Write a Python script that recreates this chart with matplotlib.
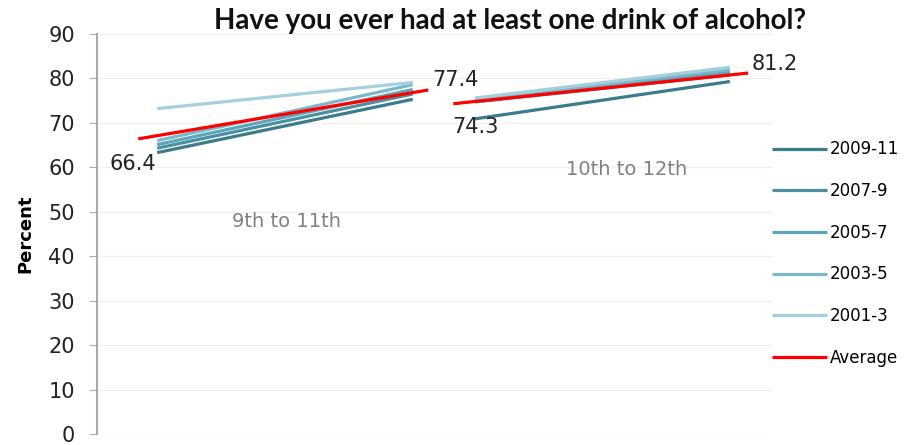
import matplotlib
matplotlib.use('Agg')
import matplotlib.pyplot as plt

periods = ['2009-11', '2007-9', '2005-7', '2003-5', '2001-3']
colors = ['#3b7c8c', '#4a8fa2', '#5ba6bd', '#7ab8cb', '#a6cfdc']

# 9th grade -> 11th grade
first_start = [63.3, 64.3, 65.1, 66.0, 73.2]
first_end = [75.3, 76.5, 77.5, 78.6, 79.1]
# 10th grade -> 12th grade
second_start = [70.9, 74.7, 75.0, 75.3, 75.6]
second_end = [79.3, 80.8, 81.4, 82.0, 82.5]

avg_first = [66.4, 77.4]
avg_second = [74.3, 81.2]

# x positions of the segments
x_first = [0.89, 4.67]
x_second = [5.59, 9.36]
x_avg_first = [0.61, 4.90]
x_avg_second = [5.27, 9.63]

fig = plt.figure(figsize=(9.15, 4.45), dpi=100)
ax = fig.add_axes([0.106, 0.0247, 0.739, 0.899])

for i in range(len(periods)):
    ax.plot(x_first, [first_start[i], first_end[i]], color=colors[i], lw=2.3,
            label=periods[i], solid_capstyle='butt')
    ax.plot(x_second, [second_start[i], second_end[i]], color=colors[i], lw=2.3,
            solid_capstyle='butt')

ax.plot(x_avg_first, avg_first, color='#ff0000', lw=2.3, label='Average', solid_capstyle='butt')
ax.plot(x_avg_second, avg_second, color='#ff0000', lw=2.3, solid_capstyle='butt')

lbl = dict(fontsize=15, ha='center', va='center', color='#222222')
ax.text(x_avg_first[0] - 0.08, avg_first[0] - 5.7, f'{avg_first[0]:.1f}', **lbl)
ax.text(x_avg_first[1] + 0.4, avg_first[1] + 2.2, f'{avg_first[1]:.1f}', **lbl)
ax.text(x_avg_second[0] + 0.33, avg_second[0] - 5.2, f'{avg_second[0]:.1f}', **lbl)
ax.text(x_avg_second[1] + 0.4, avg_second[1] + 2.0, f'{avg_second[1]:.1f}', **lbl)

ax.text(2.8, 47.9, '9th to 11th', fontsize=14, color='#808080', ha='center', va='center')
ax.text(7.83, 59.4, '10th to 12th', fontsize=14, color='#808080', ha='center', va='center')

ax.set_xlim(0, 10)
ax.set_ylim(0, 90)
ax.set_yticks(range(0, 91, 10))
ax.set_xticks([])
ax.tick_params(axis='y', labelsize=15, length=6, color='#aaaaaa', labelcolor='#222222', pad=10)
ax.grid(axis='y', color='#f0f0f0', lw=1)
ax.set_axisbelow(True)
for s in ['top', 'right', 'bottom']:
    ax.spines[s].set_visible(False)
ax.spines['left'].set_color('#aaaaaa')
ax.spines['left'].set_linewidth(1.5)
ax.set_ylabel('Percent', fontsize=13, fontweight='bold', labelpad=10)

fig.text(0.557, 0.953, 'Have you ever had at least one drink of alcohol?', fontsize=20,
         fontweight='bold', family='Lato', ha='center', va='center', color='#111111')

fig.legend(loc='upper left', bbox_to_anchor=(0.835, 0.703), frameon=False, fontsize=12,
           handlelength=3.3, handletextpad=0.15, labelspacing=1.42, borderpad=0)

fig.savefig('out.png', dpi=100)
